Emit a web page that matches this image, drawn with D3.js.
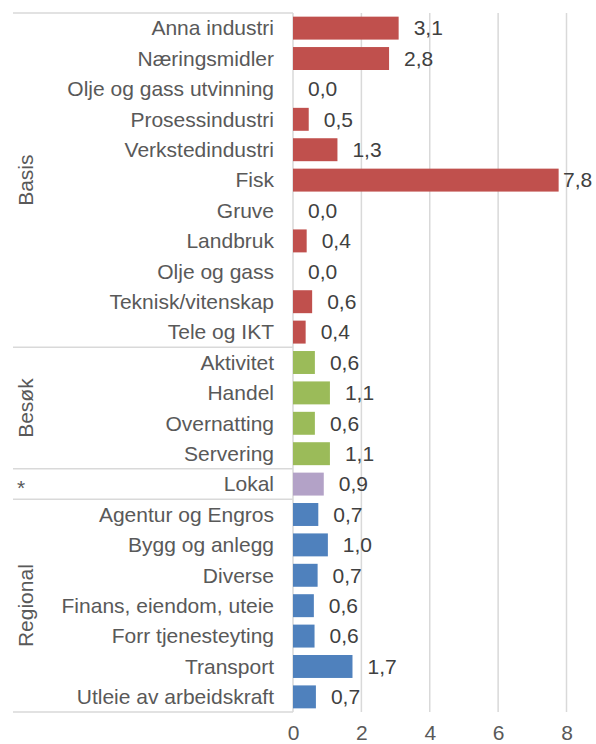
<!DOCTYPE html>
<html>
<head>
<meta charset="utf-8">
<script src="https://cdn.jsdelivr.net/npm/d3@7"></script>
<style>
  html, body { margin: 0; padding: 0; background: #fff; }
  svg { display: block; }
  svg text { font-family: "Liberation Sans", Arial, sans-serif; }
</style>
</head>
<body>
<svg id="chart" width="596" height="744"></svg>
<script>
const categories = [
  "Anna industri", "Næringsmidler", "Olje og gass utvinning", "Prosessindustri",
  "Verkstedindustri", "Fisk", "Gruve", "Landbruk", "Olje og gass",
  "Teknisk/vitenskap", "Tele og IKT",
  "Aktivitet", "Handel", "Overnatting", "Servering",
  "Lokal",
  "Agentur og Engros", "Bygg og anlegg", "Diverse", "Finans, eiendom, uteie",
  "Forr tjenesteyting", "Transport", "Utleie av arbeidskraft"
];
const values = [
  3.09, 2.81, 0.0, 0.46, 1.3, 7.77, 0.0, 0.4, 0.0, 0.56, 0.37,
  0.64, 1.08, 0.64, 1.08,
  0.9,
  0.74, 1.02, 0.72, 0.61, 0.63, 1.74, 0.67
];
const groupOf = [
  "Basis","Basis","Basis","Basis","Basis","Basis","Basis","Basis","Basis","Basis","Basis",
  "Besøk","Besøk","Besøk","Besøk",
  "*",
  "Regional","Regional","Regional","Regional","Regional","Regional","Regional"
];
const groups = ["Basis", "Besøk", "*", "Regional"];
const groupColors = ["#C0504D", "#9BBB59", "#B3A2C7", "#4F81BD"];
const xTicks = [0, 2, 4, 6, 8];

const svg = d3.select("#chart");
const W = 596;
const pLeft = 293, pRight = 566.5, pTop = 13, pBottom = 712;
const boxLeft = 13;
const FS = 21;

const x = d3.scaleLinear().domain([0, 8]).range([pLeft, pRight]);
const y = d3.scaleBand().domain(categories).range([pTop, pBottom]).paddingInner(0.245).paddingOuter(0.12);
const color = d3.scaleOrdinal().domain(groups).range(groupColors);
const grid = "#D9D9D9";

// gridlines
svg.append("g").selectAll("line").data(xTicks.slice(1)).join("line")
  .attr("x1", d => x(d)).attr("x2", d => x(d))
  .attr("y1", pTop).attr("y2", pBottom)
  .attr("stroke", grid).attr("stroke-width", 1.5);

// group separators / box lines
const groupStartIdx = groups.map(g => groupOf.indexOf(g));
const groupEndIdx = groups.map(g => groupOf.lastIndexOf(g));
const rowTop = i => pTop + (pBottom - pTop) * i / categories.length;
const sepIdx = [0].concat(groupEndIdx.map(i => i + 1));
svg.append("g").selectAll("line").data(sepIdx).join("line")
  .attr("x1", boxLeft).attr("x2", pLeft)
  .attr("y1", d => rowTop(d)).attr("y2", d => rowTop(d))
  .attr("stroke", grid).attr("stroke-width", 1.5);

// axis line at 0
svg.append("line")
  .attr("x1", x(0)).attr("x2", x(0)).attr("y1", pTop).attr("y2", pBottom)
  .attr("stroke", grid).attr("stroke-width", 1.5);

// bars
svg.append("g").selectAll("rect").data(categories).join("rect")
  .attr("x", x(0))
  .attr("y", d => y(d))
  .attr("width", (d, i) => x(values[i]) - x(0))
  .attr("height", y.bandwidth())
  .attr("fill", (d, i) => color(groupOf[i]));

// value labels
const fmt = v => d3.format(".1f")(v).replace(".", ",");
svg.append("g").selectAll("text").data(categories).join("text")
  .attr("x", (d, i) => Math.min(x(values[i]) + 15, W - 33))
  .attr("y", d => y(d) + y.bandwidth() / 2)
  .attr("dy", "0.35em")
  .attr("font-size", FS)
  .attr("fill", "#404040")
  .text((d, i) => fmt(values[i]));

// category labels
svg.append("g").selectAll("text").data(categories).join("text")
  .attr("x", 274)
  .attr("y", d => y(d) + y.bandwidth() / 2)
  .attr("dy", "0.35em")
  .attr("text-anchor", "end")
  .attr("font-size", FS)
  .attr("fill", "#595959")
  .text(d => d);

// group labels
groups.forEach((g, gi) => {
  const cy = (rowTop(groupStartIdx[gi]) + rowTop(groupEndIdx[gi] + 1)) / 2;
  if (g === "*") {
    svg.append("text").attr("x", 21).attr("y", cy).attr("dy", "0.52em")
      .attr("text-anchor", "middle").attr("font-size", FS).attr("fill", "#595959").text(g);
  } else {
    svg.append("text")
      .attr("transform", `translate(33,${cy}) rotate(-90)`)
      .attr("text-anchor", "middle")
      .attr("font-size", FS).attr("fill", "#595959").text(g);
  }
});

// x axis tick labels
const xAxis = d3.axisBottom(x).tickValues(xTicks).tickSize(0).tickPadding(0).tickFormat(d3.format("d"));
const gx = svg.append("g").attr("transform", `translate(0,${pBottom + 13})`).call(xAxis);
gx.select(".domain").remove();
gx.selectAll("text").attr("font-size", FS).attr("fill", "#595959")
  .attr("font-family", "Liberation Sans, Arial, sans-serif");
</script>
</body>
</html>
